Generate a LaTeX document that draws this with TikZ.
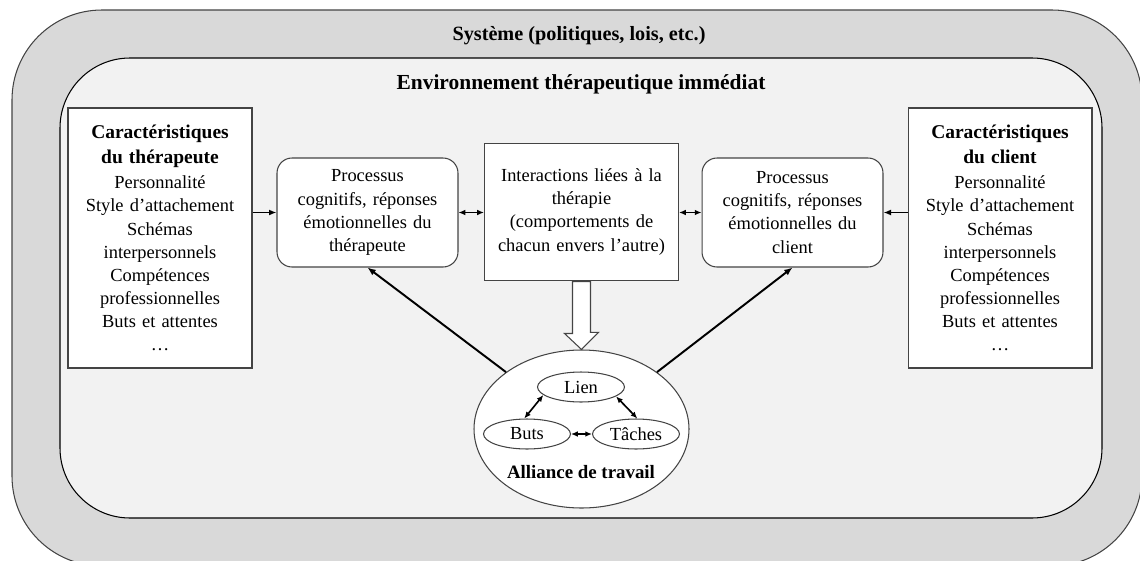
\documentclass[tikz,border=0pt]{standalone}
\usepackage{fontspec}
\setmainfont{Liberation Serif}
\usepackage{tikz}
\usetikzlibrary{arrows.meta}
\usetikzlibrary{shapes.geometric}
\usetikzlibrary{calc}
\definecolor{sysgray}{HTML}{D9D9D9}
\definecolor{envgray}{HTML}{F2F2F2}
\definecolor{edgegray}{HTML}{444444}

\begin{document}
\begin{tikzpicture}[x=0.667pt,y=-0.667pt,
  every node/.style={font=\fontsize{12.3}{15.4}\selectfont,inner sep=0pt},
  charbox/.style={draw=edgegray,line width=0.7pt,fill=white,minimum width=122.7pt,minimum height=173.4pt,text width=120pt,align=center},
  procbox/.style={draw=edgegray,line width=0.7pt,fill=white,rounded corners=10pt,minimum width=120.7pt,minimum height=72.7pt,text width=118pt,align=center},
  interbox/.style={draw=edgegray,line width=0.7pt,fill=white,minimum width=129.4pt,minimum height=92pt,text width=126pt,align=center},
  blob/.style={draw=edgegray,line width=0.7pt,fill=white,ellipse,minimum width=58pt,minimum height=20pt},
  link/.style={line width=1.1pt,-{Latex[length=5pt,width=4pt]}},
  both/.style={line width=1.1pt,{Latex[length=4.5pt,width=3.8pt]}-{Latex[length=4.5pt,width=3.8pt]}}]
  \useasboundingbox (0,0) rectangle (1140,560);
  % cadres
  \draw[draw=edgegray,line width=0.7pt,fill=sysgray,rounded corners=60pt] (12,10) rectangle (1142,566);
  \draw[draw=black,line width=0.7pt,fill=envgray,rounded corners=46.7pt] (60,58) rectangle (1102,518);
  \node (sys) at (579,36) {\fontsize{13.5}{16}\selectfont\bfseries Système (politiques, lois, etc.)};
  \node (env) at (581,84) {\fontsize{14.3}{16}\selectfont\bfseries Environnement thérapeutique immédiat};

  \node[charbox] (therap) at (160,238) {{\fontsize{13}{16.7}\selectfont\bfseries Caractéristiques\\[1.3pt] du thérapeute}\\[1.3pt] Personnalité\\ Style d’attachement\\ Schémas\\ interpersonnels\\ Compétences\\ professionnelles\\ Buts et attentes\\ …};
  \node[charbox] (client) at (1000,238) {{\fontsize{13}{16.7}\selectfont\bfseries Caractéristiques\\[1.3pt] du client}\\[1.3pt] Personnalité\\ Style d’attachement\\ Schémas\\ interpersonnels\\ Compétences\\ professionnelles\\ Buts et attentes\\ …};
  \node[procbox] (proc1) at (367.5,212.5) {Processus\\ cognitifs, réponses\\ émotionnelles du\\ thérapeute};
  \node[procbox] (proc2) at (792.5,212.5) {Processus\\ cognitifs, réponses\\ émotionnelles du\\ client};
  \node[interbox] (inter) at (581.5,212) {Interactions liées à la\\ thérapie\\ (comportements de\\ chacun envers l’autre)};

  \node[draw=edgegray,line width=0.7pt,fill=white,ellipse,minimum width=143.4pt,minimum height=105.4pt] (alliance) at (581.5,429) {};
  \node[blob] (lien) at (581,387) {Lien};
  \node[blob] (buts) at (527,434) {Buts};
  \node[blob] (taches) at (636,434) {Tâches};
  \node (alliancelbl) at (581,472) {\fontsize{12.6}{15}\selectfont\bfseries Alliance de travail};

  \draw[link] (therap.east |- proc1) -- (proc1.west);
  \draw[link] (client.west |- proc2) -- (proc2.east);
  \draw[both] (proc1.east) -- (proc1.east -| inter.west);
  \draw[both] (proc2.west -| inter.east) -- (proc2.west);
  \draw[line width=1.3pt,-{Latex[length=5.5pt,width=4.5pt]}] (alliance.143) -- (proc1.south);
  \draw[line width=1.3pt,-{Latex[length=5.5pt,width=4.5pt]}] (alliance.37) -- (proc2.south);
  \draw[draw=edgegray,line width=0.7pt,fill=white] ($(inter.south)+(-9,0)$) -- ++(0,52) -- ++(-8,0) -- (alliance.north) -- ++(17,-17) -- ++(-8,0) -- ($(inter.south)+(9,0)$) -- cycle;
  \draw[both] (lien.192) -- (buts.100);
  \draw[both] (lien.-15) -- (taches.85);
  \draw[both] (buts.east) -- (taches.west);
\end{tikzpicture}
\end{document}
